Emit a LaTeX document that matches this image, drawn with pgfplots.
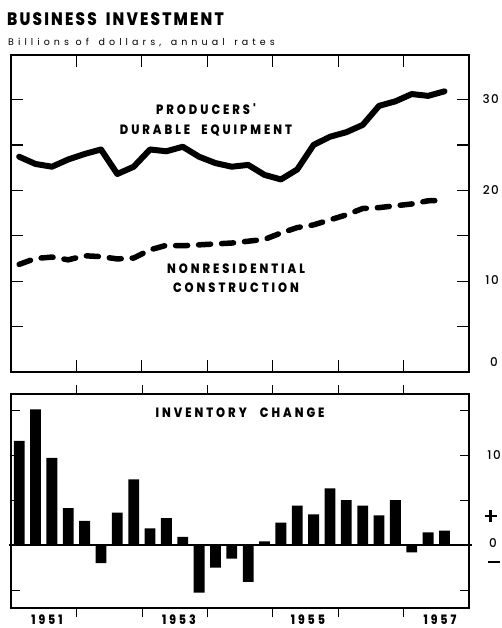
\documentclass[border=0pt]{standalone}
\usepackage{fontspec}
\setmainfont{Poppins}
\usepackage{pgfplots}
\pgfplotsset{compat=1.18}
\usepackage{pgfplotstable}
\newfontfamily\titlefont{Poppins ExtraBold}[LetterSpace=12,FakeStretch=0.85]
\newfontfamily\subfont{Poppins}[LetterSpace=43]
\newfontfamily\labfont{Poppins ExtraBold}[LetterSpace=22,FakeStretch=0.85]
\newfontfamily\numfont{Poppins Medium}[LetterSpace=12]

\pgfplotstableread{
x eq con inv
1951.125 23.7 11.85 11.6
1951.375 22.9 12.5 15.1
1951.625 22.6 12.65 9.7
1951.875 23.4 12.35 4.1
1952.125 24.0 12.8 2.7
1952.375 24.5 12.7 -2.0
1952.625 21.8 12.45 3.6
1952.875 22.6 12.55 7.3
1953.125 24.5 13.45 1.85
1953.375 24.3 13.95 3.0
1953.625 24.8 13.9 0.9
1953.875 23.7 14.0 -5.3
1954.125 23.0 14.1 -2.5
1954.375 22.6 14.2 -1.5
1954.625 22.8 14.4 -4.1
1954.875 21.7 14.6 0.4
1955.125 21.2 15.3 2.5
1955.375 22.3 15.9 4.4
1955.625 25.0 16.2 3.4
1955.875 25.9 16.75 6.3
1956.125 26.4 17.3 5.0
1956.375 27.2 18.0 4.4
1956.625 29.3 18.1 3.3
1956.875 29.8 18.3 5.0
1957.125 30.6 18.5 -0.8
1957.375 30.4 18.85 1.4
1957.625 30.9 18.9 1.6
}\data

\begin{document}
\begin{tikzpicture}
\useasboundingbox (0pt,0pt) rectangle (502pt,-628pt);
% titles
\node[anchor=west,inner sep=0pt,font=\titlefont\fontsize{18}{18}\selectfont] at (7pt,-19pt) {BUSINESS\hspace{4pt} INVESTMENT};
\node[anchor=west,inner sep=0pt,font=\subfont\fontsize{9.5}{9.5}\selectfont] at (8pt,-43pt) {Billions of\hspace{3pt} dollars,\hspace{3pt} annual\hspace{3pt} rates};

\begin{axis}[at={(11pt,-55pt)}, anchor=north west, scale only axis,
  width=458pt, height=317pt,
  xmin=1951, xmax=1958, ymin=0, ymax=34.9,
  axis line style={line width=2pt},
  xtick={1952,...,1957}, xticklabels={},
  ytick={5,10,...,30}, yticklabels={},
  tick align=inside, major tick length=12pt,
  tick style={line width=1.2pt, black},
  clip=false]
\addplot[line width=6pt, line join=round, line cap=round] table[x=x,y=eq]{\data};
\addplot[line width=5.5pt, line cap=round, line join=round, dash pattern=on 12pt off 11pt] table[x=x,y=con]{\data};
\end{axis}

\node[align=center,inner sep=0pt,font=\labfont\fontsize{13.5}{20}\selectfont] at (206pt,-120pt) {PRODUCERS'\\DURABLE\hspace{6pt} EQUIPMENT};
\node[align=center,inner sep=0pt,font=\labfont\fontsize{13.5}{19}\selectfont] at (236pt,-278pt) {NONRESIDENTIAL\\CONSTRUCTION};

\foreach \v/\y in {30/99,20/190,10/280} {
  \node[anchor=east,inner sep=0pt,font=\numfont\fontsize{12}{12}\selectfont] at (499pt,-\y pt) {\v};
}
\node[inner sep=0pt,font=\numfont\fontsize{12}{12}\selectfont] at (494pt,-362pt) {0};

\begin{axis}[at={(11pt,-394pt)}, anchor=north west, scale only axis,
  width=458pt, height=214pt,
  xmin=1951, xmax=1958, ymin=-7.0, ymax=16.8,
  axis line style={line width=2pt},
  xtick={1952,...,1957}, xticklabels={},
  ytick={-5,5,10,15}, yticklabels={},
  tick align=inside, major tick length=9pt,
  tick style={line width=0.6pt, black},
  ybar, bar width=0.165,
  clip=false]
\addplot[fill=black, draw=none] table[x=x,y=inv]{\data};
\draw[line width=1.8pt] (axis cs:1950.97,0) -- (axis cs:1958.05,0);
\end{axis}

\node[inner sep=0pt,font=\labfont\fontsize{13.5}{13.5}\selectfont] at (240pt,-413pt) {INVENTORY\hspace{8pt} CHANGE};

\node[anchor=east,inner sep=0pt,font=\numfont\fontsize{12}{12}\selectfont] at (501pt,-455pt) {10};
\node[inner sep=0pt] at (493pt,-516pt) {\rule[-5pt]{2.4pt}{12pt}\hspace{-7.2pt}\rule[-0.2pt]{12pt}{2.4pt}};
\node[inner sep=0pt,font=\numfont\fontsize{12}{12}\selectfont] at (493pt,-543pt) {0};
\node[inner sep=0pt] at (494pt,-562pt) {\rule{12pt}{2.2pt}};

\foreach \t/\xx in {1951/47,1953/179,1955/308,1957/440} {
  \node[inner sep=0pt,font=\labfont\fontsize{13}{13}\selectfont] at (\xx pt,-620pt) {\t};
}
\end{tikzpicture}
\end{document}
